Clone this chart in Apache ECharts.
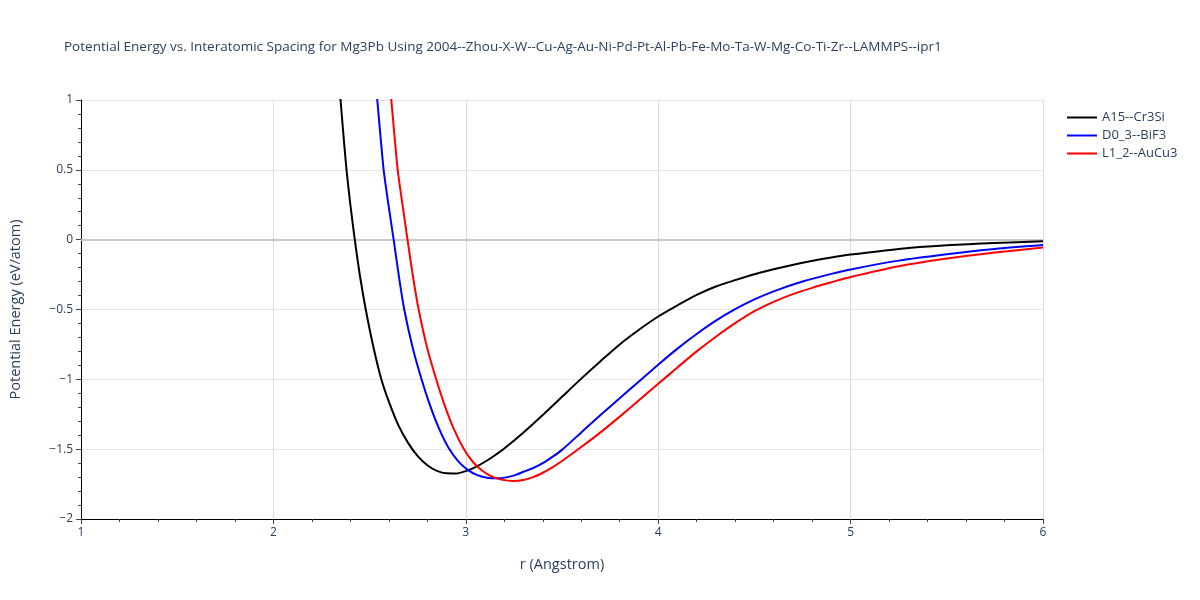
<!DOCTYPE html>
<html>
<head>
<meta charset="utf-8">
<script src="https://cdn.jsdelivr.net/npm/echarts@6/dist/echarts.min.js"></script>
<style>html,body{margin:0;padding:0;background:#fff}#c{width:1200px;height:600px}</style>
</head>
<body>
<div id="c"></div>
<script>
const titleText = 'Potential Energy vs. Interatomic Spacing for Mg3Pb Using 2004--Zhou-X-W--Cu-Ag-Au-Ni-Pd-Pt-Al-Pb-Fe-Mo-Ta-W-Mg-Co-Ti-Zr--LAMMPS--ipr1';
const seriesNames = ['A15--Cr3Si', 'D0_3--BiF3', 'L1_2--AuCu3'];

const a15 = [
  [2.335,1.25],[2.349,1.0],[2.364,0.75],[2.380,0.5],[2.40,0.25],[2.423,0.0],[2.45,-0.26],
  [2.48,-0.5],[2.52,-0.77],[2.561,-1.0],[2.60,-1.16],[2.65,-1.33],[2.70,-1.455],[2.75,-1.55],
  [2.80,-1.615],[2.85,-1.655],[2.90,-1.673],[2.95,-1.674],[3.00,-1.657],[3.05,-1.628],[3.10,-1.59],
  [3.15,-1.545],[3.20,-1.495],[3.30,-1.38],[3.40,-1.255],[3.50,-1.125],[3.60,-0.995],[3.70,-0.87],
  [3.80,-0.75],[3.90,-0.645],[4.00,-0.55],[4.10,-0.47],[4.20,-0.395],[4.30,-0.335],[4.40,-0.29],
  [4.50,-0.248],[4.60,-0.212],[4.75,-0.165],[4.90,-0.128],[5.00,-0.107],[5.25,-0.066],[5.50,-0.04],
  [5.75,-0.023],[6.00,-0.012]
];
const d03 = [
  [2.527,1.25],[2.54,1.0],[2.556,0.75],[2.573,0.5],[2.598,0.25],[2.625,0.0],[2.652,-0.26],
  [2.68,-0.5],[2.725,-0.78],[2.77,-1.0],[2.81,-1.17],[2.86,-1.35],[2.91,-1.49],[2.96,-1.585],
  [3.01,-1.648],[3.06,-1.686],[3.11,-1.704],[3.16,-1.709],[3.21,-1.702],[3.26,-1.684],[3.30,-1.662],
  [3.35,-1.635],[3.40,-1.60],[3.45,-1.555],[3.50,-1.505],[3.60,-1.38],[3.70,-1.255],[3.80,-1.135],
  [3.90,-1.015],[4.00,-0.895],[4.10,-0.78],[4.20,-0.675],[4.30,-0.58],[4.40,-0.498],[4.50,-0.428],
  [4.60,-0.37],[4.75,-0.30],[4.90,-0.245],[5.00,-0.213],[5.25,-0.15],[5.50,-0.104],[5.75,-0.066],
  [6.00,-0.038]
];
const l12 = [
  [2.60,1.25],[2.613,1.0],[2.629,0.75],[2.646,0.5],[2.671,0.25],[2.697,0.0],[2.725,-0.26],
  [2.755,-0.5],[2.80,-0.78],[2.846,-1.0],[2.886,-1.17],[2.936,-1.35],[2.986,-1.49],[3.036,-1.59],
  [3.086,-1.655],[3.136,-1.697],[3.19,-1.72],[3.245,-1.728],[3.30,-1.72],[3.35,-1.70],[3.39,-1.676],
  [3.45,-1.63],[3.50,-1.585],[3.60,-1.485],[3.70,-1.38],[3.80,-1.267],[3.90,-1.15],[4.00,-1.032],
  [4.10,-0.915],[4.20,-0.80],[4.30,-0.695],[4.40,-0.598],[4.50,-0.512],[4.60,-0.445],[4.70,-0.39],
  [4.80,-0.345],[4.90,-0.305],[5.00,-0.267],[5.25,-0.19],[5.50,-0.135],[5.75,-0.092],[6.00,-0.056]
];
const seriesData = [a15, d03, l12];
const colors = ['#000000', '#0000ff', '#ff0000'];

const font = '"Open Sans", verdana, arial, sans-serif';
const txt = '#2a3f5f';

const chart = echarts.init(document.getElementById('c'), null, {renderer: 'canvas'});
chart.setOption({
  animation: false,
  backgroundColor: '#ffffff',
  title: {
    text: titleText, left: 59, top: 35,
    textStyle: {fontFamily: font, fontSize: 13.5, fontWeight: 'normal', color: txt}
  },
  legend: {
    orient: 'vertical', left: 1062, top: 106, itemGap: 5,
    itemWidth: 30, itemHeight: 14, icon: 'path://M0,6 L30,6 L30,8 L0,8 Z',
    textStyle: {fontFamily: font, fontSize: 13, color: txt},
    data: seriesNames
  },
  grid: {left: 79, right: 157, top: 100, bottom: 81, containLabel: false},
  xAxis: {
    type: 'value', min: 1, max: 6, interval: 1,
    name: 'r (Angstrom)', nameLocation: 'middle', nameGap: 38,
    nameTextStyle: {fontFamily: font, fontSize: 14.5, color: txt},
    axisLine: {onZero: false, lineStyle: {color: '#000', width: 1}},
    axisTick: {show: true, inside: false, length: 5, lineStyle: {color: '#444'}},
    minorTick: {show: true, splitNumber: 5, length: 3, lineStyle: {color: '#444'}},
    axisLabel: {fontFamily: font, fontSize: 12, color: txt, margin: 8},
    splitLine: {show: true, lineStyle: {color: '#dddddd', width: 1}}
  },
  yAxis: {
    type: 'value', min: -2, max: 1, interval: 0.5,
    name: 'Potential Energy (eV/atom)', nameLocation: 'middle', nameGap: 58,
    nameTextStyle: {fontFamily: font, fontSize: 14.5, color: txt},
    axisLine: {show: true, onZero: false, lineStyle: {color: '#000', width: 1}},
    axisTick: {show: true, inside: false, length: 5, lineStyle: {color: '#444'}},
    minorTick: {show: true, splitNumber: 5, length: 3, lineStyle: {color: '#444'}},
    axisLabel: {fontFamily: font, fontSize: 12, color: txt, margin: 8,
      formatter: v => (v < 0 ? '\u2212' + Math.abs(v) : String(v))},
    splitLine: {show: true, lineStyle: {color: '#e6e6e6', width: 1}}
  },
  series: seriesData.map((d, i) => ({
    name: seriesNames[i], type: 'line', data: d, showSymbol: false, symbol: 'none',
    clip: true, smooth: 0.25,
    lineStyle: {color: colors[i], width: 2}, itemStyle: {color: colors[i]},
    z: 3 + i,
    markLine: i === 0 ? {
      silent: true, symbol: 'none', label: {show: false},
      lineStyle: {color: '#c8c8c8', width: 2, type: 'solid'},
      data: [{yAxis: 0}], z: 1
    } : undefined
  }))
});
</script>
</body>
</html>
